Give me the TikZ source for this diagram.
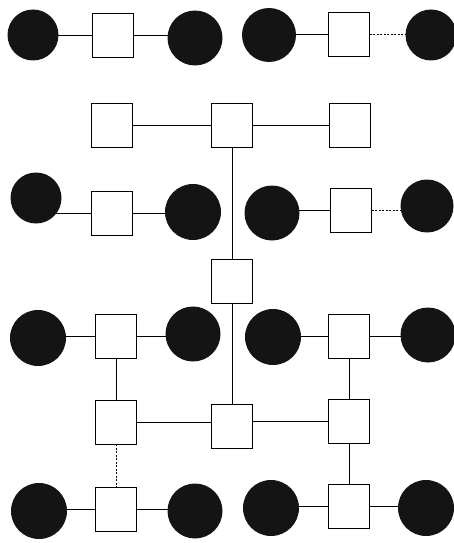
\documentclass[tikz,border=0pt]{standalone}
\usetikzlibrary{backgrounds}
\begin{document}
\begin{tikzpicture}[x=1pt,y=-1pt,
  sq/.style={draw=black,line width=0.9pt,fill=white,minimum width=41pt,minimum height=44pt,inner sep=0pt},
  dot/.style={fill=black!92,draw=none,circle,inner sep=0pt,minimum size=#1},
  dot/.default=54pt,
  ln/.style={line width=0.9pt},
  dl/.style={line width=0.9pt,dash pattern=on 2pt off 1.5pt}]
\useasboundingbox (0,0) rectangle (453,543);
% row 1
\node[dot=51pt] (c11) at (33,35) {};
\node[sq] (s11) at (113,35) {};
\node[dot=55pt] (c12) at (195,38) {};
\node[dot=54pt] (c13) at (269,35) {};
\node[sq] (s12) at (349,34) {};
\node[dot=51pt] (c14) at (431,35) {};
% row 2
\node[sq] (a) at (112,125) {};
\node[sq] (b) at (232,125) {};
\node[sq] (c) at (350,125) {};
% row 3
\node[dot=51pt] (c31) at (36,198) {};
\node[sq] (s31) at (112,213) {};
\node[dot=56pt] (c32) at (193,212) {};
\node[dot=55pt] (c33) at (272,213) {};
\node[sq] (s32) at (351,210) {};
\node[dot=53pt] (c34) at (427,206) {};
% middle
\node[sq] (m) at (232,281) {};
% row 4
\node[dot=56pt] (c41) at (38,338) {};
\node[sq] (s41) at (116,336) {};
\node[dot=55pt] (c42) at (193,334) {};
\node[dot=56pt] (c43) at (273,337) {};
\node[sq] (s42) at (349,336) {};
\node[dot=55pt] (c44) at (428,335) {};
% row 5
\node[sq] (p) at (116,422) {};
\node[sq] (q) at (232,426) {};
\node[sq] (r) at (349,421) {};
% row 6
\node[dot=56pt] (c61) at (39,511) {};
\node[sq] (s61) at (116,509) {};
\node[dot=55pt] (c62) at (195,511) {};
\node[dot=56pt] (c63) at (271,508) {};
\node[sq] (s62) at (349,506) {};
\node[dot=56pt] (c64) at (426,508) {};
\begin{scope}[on background layer]
% row 1
\draw[ln] (s11.west) -- (c11.center |- s11.west);
\draw[ln] (s11.east) -- (c12.center |- s11.east);
\draw[ln] (s12.west) -- (c13.center |- s12.west);
\draw[dl] (s12.east) -- (c14.center |- s12.east);
% row 2
\draw[ln] (a) -- (b); \draw[ln] (b) -- (c);
% row 3
\draw[ln] (s31.west) -- (c31.center |- s31.west);
\draw[ln] (s31.east) -- (c32.center |- s31.east);
\draw[ln] (s32.west) -- (c33.center |- s32.west);
\draw[dl] (s32.east) -- (c34.center |- s32.east);
% verticals
\draw[ln] (b) -- (m);
\draw[ln] (m) -- (q);
% row 4
\draw[ln] (s41.west) -- (c41.center |- s41.west);
\draw[ln] (s41.east) -- (c42.center |- s41.east);
\draw[ln] (s42.west) -- (c43.center |- s42.west);
\draw[ln] (s42.east) -- (c44.center |- s42.east);
% row 5
\draw[ln] (p.east) -- (q.west |- p.east);
\draw[ln] (q.east |- r.west) -- (r.west);
\draw[ln] (s41) -- (p);
\draw[ln] (s42) -- (r);
% row 6
\draw[ln] (s61.west) -- (c61.center |- s61.west);
\draw[ln] (s61.east) -- (c62.center |- s61.east);
\draw[ln] (s62.west) -- (c63.center |- s62.west);
\draw[ln] (s62.east) -- (c64.center |- s62.east);
\draw[dl] (p) -- (s61);
\draw[ln] (r) -- (s62);
\end{scope}
\end{tikzpicture}
\end{document}
